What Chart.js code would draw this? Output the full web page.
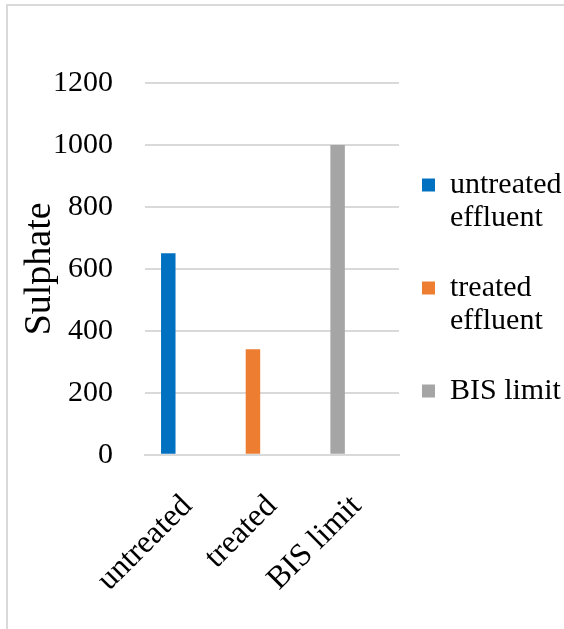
<!DOCTYPE html>
<html lang="en">
<head>
    <meta charset="UTF-8">
    <title>Sulphate</title>
    <script src="https://cdn.jsdelivr.net/npm/chart.js"></script>
    <style>
body {
    margin: 0;
    background: #fff;
}
.frame {
    position: absolute;
    left: 6px;
    top: 4px;
    width: 580px;
    height: 640px;
    border: 2px solid #dadada;
}
canvas {
    display: block;
}
    </style>
</head>
<body>

<div class="frame"><canvas id="chart" width="556" height="623"></canvas></div>

<script>
// categories and values
const categories = ['untreated', 'treated', 'BIS limit'];
const seriesNames = [['untreated', 'effluent'], ['treated', 'effluent'], ['BIS limit']];
const untreatedValues = [650, null, null];
const treatedValues = [null, 340, null];
const bisValues = [null, null, 1000];
const yTicks = [0, 200, 400, 600, 800, 1000, 1200];

const colors = ['#0070C0', '#ED7D31', '#A5A5A5'];
const serif = "'Liberation Serif', 'Times New Roman', 'DejaVu Serif', serif";

// legend entries get blank lines after them to space them out like the original
function legendLabels(chart) {
    const items = Chart.defaults.plugins.legend.labels.generateLabels(chart);
    return items
        .filter(item => item.datasetIndex < 3)
        .map(item => {
            const lines = [];
            item.text.forEach((t, i) => {
                if (i > 0) lines.push('');
                lines.push(t);
            });
            if (item.datasetIndex < 2) lines.push('', '', '');
            return Object.assign({}, item, { text: lines });
        });
}

const ctx = document.getElementById('chart').getContext('2d');
new Chart(ctx, {
    type: 'bar',
    data: {
        labels: categories,
        datasets: [
            { label: seriesNames[0], data: untreatedValues, backgroundColor: colors[0], stack: 'a' },
            { label: seriesNames[1], data: treatedValues, backgroundColor: colors[1], stack: 'a' },
            { label: seriesNames[2], data: bisValues, backgroundColor: colors[2], stack: 'a' },
            // empty slot so the bars sit left of the category centre, like the original
            { label: '', data: [null, null, null], stack: 'b' }
        ]
    },
    options: {
        responsive: false,
        animation: false,
        categoryPercentage: 0.9,
        barPercentage: 0.38,
        layout: { padding: { left: 4, right: 0, top: 77, bottom: 5 } },
        plugins: {
            tooltip: { enabled: false },
            legend: {
                position: 'right',
                align: 'start',
                maxWidth: 146,
                title: {
                    display: true,
                    text: ' ',
                    font: { size: 10, lineHeight: 1.2 },
                    padding: { top: 0, bottom: 71 }
                },
                labels: {
                    generateLabels: legendLabels,
                    color: '#000',
                    font: { family: serif, size: 30, lineHeight: '16.5px' },
                    boxWidth: 13,
                    boxHeight: 13,
                    padding: 4
                }
            }
        },
        scales: {
            x: {
                grid: { display: false },
                border: { color: '#d9d9d9', width: 2 },
                ticks: {
                    color: '#000',
                    font: { family: serif, size: 32 },
                    minRotation: 45,
                    maxRotation: 45,
                    padding: 25
                }
            },
            y: {
                min: 0,
                max: 1200,
                afterBuildTicks: axis => { axis.ticks = yTicks.map(v => ({ value: v })); },
                afterFit: axis => { axis.width = 133; },
                grid: { color: '#d9d9d9', lineWidth: 2, drawTicks: false },
                border: { display: false },
                ticks: {
                    color: '#000',
                    font: { family: serif, size: 30 },
                    padding: 32,
                    callback: v => String(v)
                },
                title: {
                    display: true,
                    text: 'Sulphate',
                    color: '#000',
                    font: { family: serif, size: 38, lineHeight: 1 },
                    padding: { top: 9, bottom: 0 }
                }
            },
            // blank strip between the plot and the legend
            gap: {
                position: 'right',
                display: true,
                grid: { display: false },
                border: { display: false },
                ticks: { display: false },
                afterFit: axis => { axis.width = 19; }
            }
        }
    }
});
</script>

</body>
</html>
